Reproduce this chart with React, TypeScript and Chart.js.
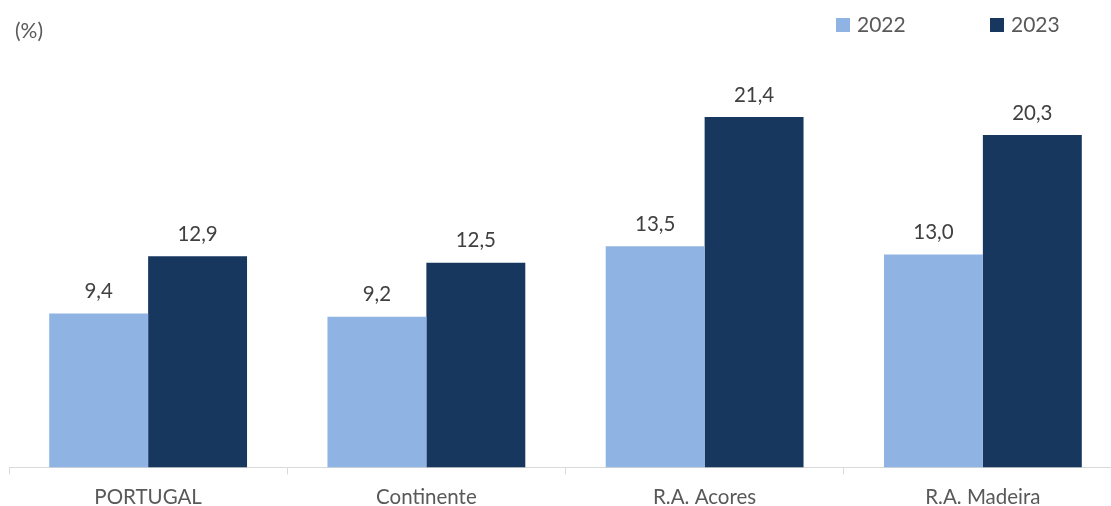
import React, { useEffect, useRef } from "react";
import { Chart, registerables } from "chart.js";

Chart.register(...registerables);

const categories = ["PORTUGAL", "Continente", "R.A. Acores", "R.A. Madeira"];
const series2022 = [9.4, 9.2, 13.5, 13.0];
const series2023 = [12.9, 12.5, 21.4, 20.3];
const seriesLabels = ["2022", "2023"];
const seriesColors = ["#8FB4E3", "#17375E"];
const unitLabel = "(%)";

const FONT = "Lato, 'Open Sans', sans-serif";

const valueLabels = {
  id: "valueLabels",
  afterDatasetsDraw(chart: any) {
    const ctx = chart.ctx;
    ctx.save();
    ctx.font = `20.5px ${FONT}`;
    ctx.fillStyle = "#404040";
    ctx.textAlign = "center";
    ctx.textBaseline = "middle";
    chart.data.datasets.forEach((ds: any, i: number) => {
      const meta = chart.getDatasetMeta(i);
      meta.data.forEach((el: any, j: number) => {
        const v = ds.data[j] as number;
        ctx.fillText(v.toFixed(1).replace(".", ","), el.x, el.y - 22);
      });
    });
    ctx.restore();
  },
};

const customLegend = {
  id: "customLegend",
  afterDraw(chart: any) {
    const ctx = chart.ctx;
    ctx.save();
    ctx.font = `21px ${FONT}`;
    ctx.textBaseline = "middle";
    ctx.textAlign = "left";
    const xs = [836, 990];
    chart.data.datasets.forEach((ds: any, i: number) => {
      ctx.fillStyle = ds.backgroundColor;
      ctx.fillRect(xs[i], 18, 14, 14);
      ctx.fillStyle = "#595959";
      ctx.fillText(ds.label, xs[i] + 21, 25);
    });
    ctx.fillStyle = "#595959";
    ctx.fillText(unitLabel, 15, 31);
    ctx.restore();
  },
};

export default function App() {
  const ref = useRef<HTMLCanvasElement>(null);
  useEffect(() => {
    document.body.style.margin = "0";
    const chart = new Chart(ref.current!, {
      type: "bar",
      data: {
        labels: categories,
        datasets: [
          { label: seriesLabels[0], data: series2022, backgroundColor: seriesColors[0] },
          { label: seriesLabels[1], data: series2023, backgroundColor: seriesColors[1] },
        ],
      },
      options: {
        responsive: false,
        animation: false,
        layout: { padding: { left: 9, right: 8, top: 58, bottom: 0 } },
        datasets: {
          bar: { categoryPercentage: 0.711, barPercentage: 1 },
        },
        plugins: {
          legend: { display: false },
          tooltip: { enabled: false },
        },
        scales: {
          x: {
            grid: {
              display: true,
              drawOnChartArea: false,
              drawTicks: true,
              tickLength: 7,
              color: "#d9d9d9",
              offset: true,
            },
            border: { display: true, color: "#d9d9d9", width: 1 },
            ticks: {
              padding: 11,
              color: "#595959",
              font: { family: FONT, size: 20.5 },
              maxRotation: 0,
            },
          },
          y: {
            display: false,
            min: 0,
            max: 25,
          },
        },
      },
      plugins: [valueLabels, customLegend],
    });
    return () => chart.destroy();
  }, []);
  return (
    <div style={{ position: "fixed", left: 0, top: 0, width: 1111, height: 506, overflow: "hidden", background: "#fff" }}>
      <canvas ref={ref} width={1130} height={521} style={{ width: 1130, height: 521, display: "block" }} />
    </div>
  );
}
